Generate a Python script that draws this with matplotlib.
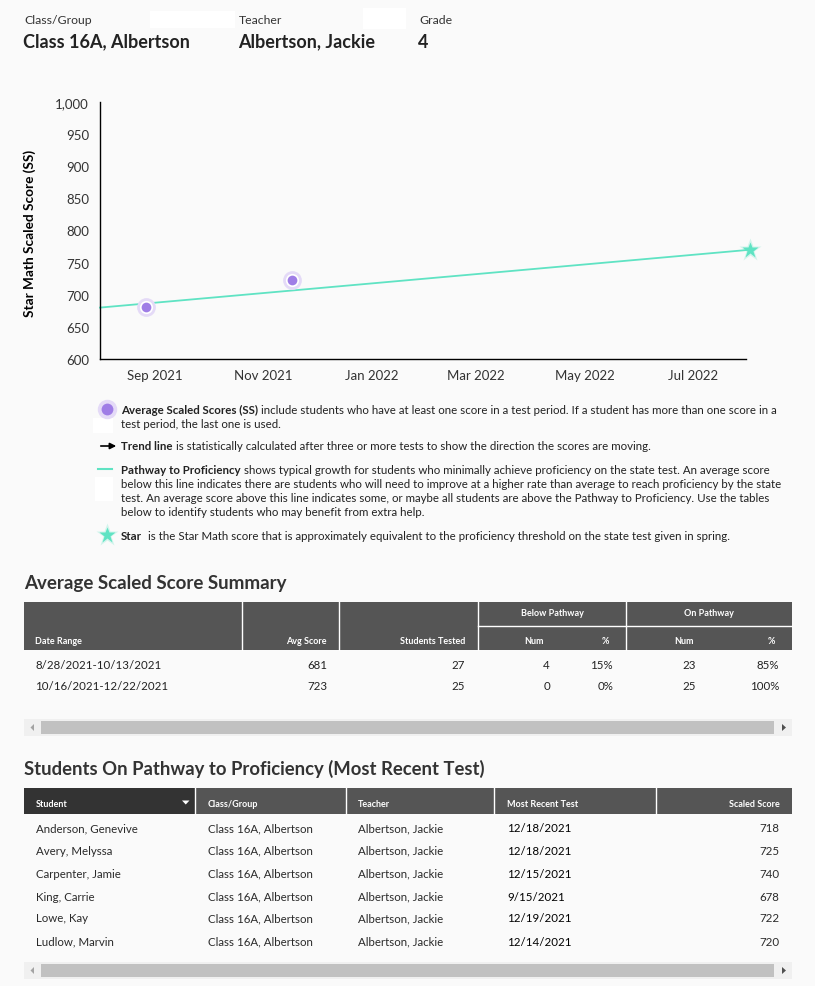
import matplotlib
matplotlib.use("Agg")
import matplotlib.pyplot as plt
import matplotlib.dates as mdates
from matplotlib.patches import Rectangle, Polygon
from matplotlib.ticker import FuncFormatter
import numpy as np

W, H = 815, 987
plt.rcParams['font.family'] = ["Lato", "DejaVu Sans"]

# ---------------- data ----------------
header_labels = ["Class/Group", "Teacher", "Grade"]
header_values = ["Class 16A, Albertson", "Albertson, Jackie", "4"]

avg_dates = ["2021-08-27", "2021-11-17"]
avg_scores = [681, 723]
pathway_dates = ["2021-08-01", "2022-08-02"]
pathway_scores = [680, 770]
star_date = "2022-08-02"
star_score = 770
x_range = ["2021-08-01", "2022-07-31"]
x_tick_dates = ["2021-09-01", "2021-11-01", "2022-01-01", "2022-03-01", "2022-05-01", "2022-07-01"]
y_ticks = [600, 650, 700, 750, 800, 850, 900, 950, 1000]
y_label = "Star Math Scaled Score (SS)"

summary_ranges = ["8/28/2021-10/13/2021", "10/16/2021-12/22/2021"]
summary_avg = [681, 723]
summary_tested = [27, 25]
below_num = [4, 0]
below_pct = ["15%", "0%"]
on_num = [23, 25]
on_pct = ["85%", "100%"]

student_names = ["Anderson, Genevive", "Avery, Melyssa", "Carpenter, Jamie",
                 "King, Carrie", "Lowe, Kay", "Ludlow, Marvin"]
student_class = ["Class 16A, Albertson"] * 6
student_teacher = ["Albertson, Jackie"] * 6
student_dates = ["12/18/2021", "12/18/2021", "12/15/2021", "9/15/2021", "12/19/2021", "12/14/2021"]
student_scores = [718, 725, 740, 678, 722, 720]

BG = "#fafafa"
TEAL = "#5fe3c3"
PURPLE = "#9f7de6"
HALO = "#e4daf7"
DARK = "#555555"
DARKER = "#333333"
TXT = "#222222"

fig = plt.figure(figsize=(W / 100, H / 100), dpi=100, facecolor=BG)

# overlay axes in pixel coordinates
ov = fig.add_axes([0, 0, 1, 1], zorder=-1)
ov.set_xlim(0, W)
ov.set_ylim(H, 0)
ov.axis("off")
ov.patch.set_alpha(0)

# ---------------- header ----------------
ov.add_patch(Rectangle((150, 12), 85, 17, facecolor="white", edgecolor="none"))
ov.add_patch(Rectangle((363, 9), 43, 21, facecolor="white", edgecolor="none"))
for x, lab, val in zip([23, 238, 418], header_labels, header_values):
    ov.text(x + 1, 21, lab, fontsize=8.8, color="#333333", va="center", ha="left")
    ov.text(x, 42, val, fontsize=13, fontweight="bold", color=TXT, va="center", ha="left")

# ---------------- chart ----------------
ax = fig.add_axes([100 / W, 1 - 360 / H, 646 / W, 257 / H])
ax.set_facecolor("none")
xd = lambda s: mdates.datestr2num(s)
ax.set_xlim(xd(x_range[0]), xd(x_range[1]))
ax.set_ylim(600, 1000)
ax.set_yticks(y_ticks)
ax.yaxis.set_major_formatter(FuncFormatter(lambda v, p: f"{int(v):,}"))
ax.set_xticks([xd(d) for d in x_tick_dates])
ax.xaxis.set_major_formatter(mdates.DateFormatter("%b %Y"))
ax.tick_params(length=0, labelsize=9.5, colors="#333333")
ax.tick_params(axis="y", pad=8)
ax.tick_params(axis="x", pad=7)
for s in ["top", "right"]:
    ax.spines[s].set_visible(False)
for s in ["left", "bottom"]:
    ax.spines[s].set_color("black")
    ax.spines[s].set_linewidth(1)

ax.plot([xd(d) for d in pathway_dates], pathway_scores, color=TEAL, lw=1.3, clip_on=False, zorder=2)
pdx = [xd(d) for d in avg_dates]
ax.plot(pdx, avg_scores, ls="none", marker="o", ms=13.5, mfc=HALO, mec="none", zorder=3)
ax.plot(pdx, avg_scores, ls="none", marker="o", ms=9.5, mfc="white", mec="none", zorder=4)
ax.plot(pdx, avg_scores, ls="none", marker="o", ms=7, mfc=PURPLE, mec="none", zorder=5)
ax.plot([xd(star_date)], [star_score], marker="*", ms=17, mfc=TEAL, mec="none", alpha=0.25,
        clip_on=False, zorder=5)
ax.plot([xd(star_date)], [star_score], marker="*", ms=12, mfc=TEAL, mec="none",
        clip_on=False, zorder=6)

ov.text(30, 233, y_label, rotation=90, fontsize=9.8, fontweight="bold", color="black",
        ha="center", va="center")

# ---------------- legend ----------------
renderer = fig.canvas.get_renderer()
LFS = 8.25


def rich(x, y, parts):
    for txt, wt in parts:
        t = ov.text(x, y, txt, fontsize=LFS, fontweight=wt, color=TXT, ha="left", va="center")
        bb = t.get_window_extent(renderer)
        x = bb.x1 + 3


ov.add_patch(Rectangle((93, 419), 20, 15, facecolor="white", edgecolor="none"))
ov.add_patch(Rectangle((95, 478), 18, 24, facecolor="white", edgecolor="none"))
ov.plot([107], [410], marker="o", ms=14, mfc=HALO, mec="none")
ov.plot([107], [410], marker="o", ms=8.5, mfc=PURPLE, mec="none")
ov.annotate("", xy=(119, 447), xytext=(98, 447),
            arrowprops=dict(arrowstyle="-|>", color="black", lw=1.2, mutation_scale=9))
ov.plot([98, 112], [470, 470], color=TEAL, lw=1.5)
ov.plot([107], [536], marker="*", ms=17, mfc=TEAL, mec="none", alpha=0.25)
ov.plot([107], [536], marker="*", ms=12, mfc=TEAL, mec="none")

rich(121, 410, [("Average Scaled Scores (SS)", "bold"),
                ("include students who have at least one score in a test period. If a student has more than one score in a", "normal")])
rich(121, 424, [("test period, the last one is used.", "normal")])
rich(121, 447, [("Trend line", "bold"),
                ("is statistically calculated after three or more tests to show the direction the scores are moving.", "normal")])
rich(121, 470, [("Pathway to Proficiency", "bold"),
                ("shows typical growth for students who minimally achieve proficiency on the state test. An average score", "normal")])
rich(121, 484, [("below this line indicates there are students who will need to improve at a higher rate than average to reach proficiency by the state", "normal")])
rich(121, 499, [("test. An average score above this line indicates some, or maybe all students are above the Pathway to Proficiency. Use the tables", "normal")])
rich(121, 513, [("below to identify students who may benefit from extra help.", "normal")])
rich(121, 536, [("Star", "bold"),
                (" is the Star Math score that is approximately equivalent to the proficiency threshold on the state test given in spring.", "normal")])

# ---------------- summary table ----------------
ov.text(24, 583, "Average Scaled Score Summary", fontsize=13.5, fontweight="bold", color="#333333",
        ha="left", va="center")
ov.add_patch(Rectangle((24, 603), 768, 48, facecolor=DARK, edgecolor="none"))
for x in [241.7, 339.4, 477.6, 626.3]:
    ov.plot([x, x], [603, 651], color="white", lw=1)
ov.plot([477.6, 792], [627, 627], color="white", lw=1)
HFS = 6.5
hk = dict(fontsize=HFS, fontweight="bold", color="white", va="center")
ov.text(35, 641, "Date Range", ha="left", **hk)
ov.text(327, 641, "Avg Score", ha="right", **hk)
ov.text(465, 641, "Students Tested", ha="right", **hk)
ov.text(552, 614, "Below Pathway", ha="center", **hk)
ov.text(709, 614, "On Pathway", ha="center", **hk)
ov.text(534, 641, "Num", ha="center", **hk)
ov.text(609, 641, "%", ha="right", **hk)
ov.text(684, 641, "Num", ha="center", **hk)
ov.text(775, 641, "%", ha="right", **hk)

BFS = 8.3
for i, y in enumerate([665.5, 687]):
    bk = dict(fontsize=BFS, color=TXT, va="center")
    ov.text(35, y, summary_ranges[i], ha="left", **bk)
    ov.text(327, y, str(summary_avg[i]), ha="right", **bk)
    ov.text(465, y, str(summary_tested[i]), ha="right", **bk)
    ov.text(550, y, str(below_num[i]), ha="right", **bk)
    ov.text(613, y, below_pct[i], ha="right", **bk)
    ov.text(696, y, str(on_num[i]), ha="right", **bk)
    ov.text(779, y, on_pct[i], ha="right", **bk)


def scrollbar(y0):
    ov.add_patch(Rectangle((24, y0), 768, 17, facecolor="#f0f0f0", edgecolor="none"))
    ov.add_patch(Rectangle((41, y0 + 2), 733, 12.7, facecolor="#c1c1c1", edgecolor="none"))
    ov.add_patch(Polygon([[34, y0 + 5], [34, y0 + 12], [30.5, y0 + 8.5]], closed=True,
                         facecolor="#a3a3a3", edgecolor="none"))
    ov.add_patch(Polygon([[782, y0 + 5], [782, y0 + 12], [786, y0 + 8.5]], closed=True,
                         facecolor="#505050", edgecolor="none"))


scrollbar(720)

# ---------------- students table ----------------
ov.text(24, 769, "Students On Pathway to Proficiency (Most Recent Test)", fontsize=13.3,
        fontweight="bold", color="#333333", ha="left", va="center")
ov.add_patch(Rectangle((24, 789), 768, 26, facecolor=DARK, edgecolor="none"))
ov.add_patch(Rectangle((24, 789), 171.4, 26, facecolor=DARKER, edgecolor="none"))
for x in [195.4, 345.6, 494.3, 656.4]:
    ov.plot([x, x], [789, 815], color="white", lw=1)
ov.add_patch(Polygon([[182, 801.5], [189.5, 801.5], [185.75, 805.5]], closed=True,
                     facecolor="white", edgecolor="none"))
hy = 804.5
ov.text(36, hy, "Student", ha="left", **hk)
ov.text(207.5, hy, "Class/Group", ha="left", **hk)
ov.text(358, hy, "Teacher", ha="left", **hk)
ov.text(507, hy, "Most Recent Test", ha="left", **hk)
ov.text(779.5, hy, "Scaled Score", ha="right", **hk)

row_y = [829, 851.3, 874, 897.3, 919, 942]
for i, y in enumerate(row_y):
    bk = dict(fontsize=BFS, color="#2a2a2a", va="center")
    ov.text(36, y, student_names[i], ha="left", **bk)
    ov.text(207.5, y, student_class[i], ha="left", **bk)
    ov.text(358, y, student_teacher[i], ha="left", **bk)
    ov.text(507, y, student_dates[i], ha="left", fontsize=BFS, color="#000000", va="center")
    ov.text(779.5, y, str(student_scores[i]), ha="right", **bk)

scrollbar(963)

fig.savefig("out.png", dpi=100, facecolor=BG)
